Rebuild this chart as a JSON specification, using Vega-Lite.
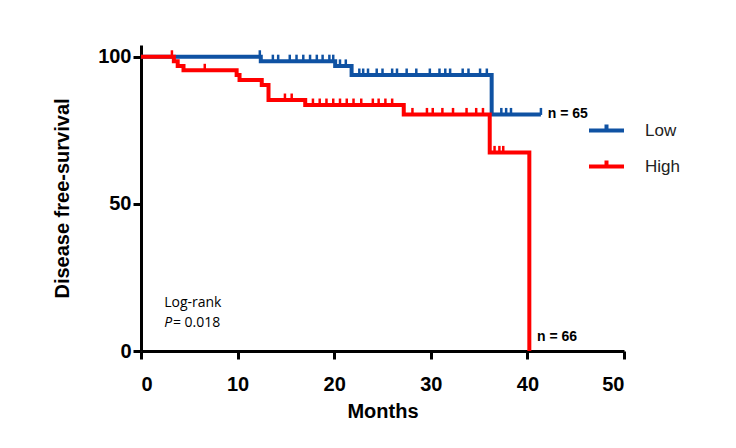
{
  "$schema": "https://vega.github.io/schema/vega-lite/v6.json",
  "width": 483,
  "height": 306,
  "autosize": {"type": "none"},
  "padding": {"left": 141, "top": 45, "right": 112, "bottom": 97},
  "background": "white",
  "config": {
    "view": {"stroke": null},
    "axis": {
      "grid": false,
      "domainColor": "black",
      "domainWidth": 3,
      "tickColor": "black",
      "tickWidth": 3,
      "tickSize": 8,
      "labelFont": "Liberation Sans",
      "labelFontWeight": "bold",
      "labelFontSize": 20,
      "labelColor": "black",
      "titleFont": "Liberation Sans",
      "titleFontWeight": "bold",
      "titleFontSize": 20,
      "titleColor": "black"
    }
  },
  "datasets": {
    "lines": [
      {"group": "Low", "month": 0, "surv": 100},
      {"group": "Low", "month": 12.4, "surv": 98.5},
      {"group": "Low", "month": 20.1, "surv": 96.9},
      {"group": "Low", "month": 21.8, "surv": 93.8},
      {"group": "Low", "month": 36.3, "surv": 80.4},
      {"group": "Low", "month": 41.4, "surv": 80.4},
      {"group": "High", "month": 0, "surv": 100},
      {"group": "High", "month": 3.4, "surv": 98.5},
      {"group": "High", "month": 3.8, "surv": 96.9},
      {"group": "High", "month": 4.4, "surv": 95.4},
      {"group": "High", "month": 9.9, "surv": 93.8},
      {"group": "High", "month": 10.2, "surv": 92.1},
      {"group": "High", "month": 12.5, "surv": 90.4},
      {"group": "High", "month": 13.2, "surv": 85.3},
      {"group": "High", "month": 17.0, "surv": 83.6},
      {"group": "High", "month": 27.2, "surv": 80.4},
      {"group": "High", "month": 36.1, "surv": 67.5},
      {"group": "High", "month": 40.2, "surv": 0}
    ],
    "censor": [
      {"group": "High", "month": 3.2, "surv": 100},
      {"group": "High", "month": 6.6, "surv": 95.4},
      {"group": "High", "month": 14.9, "surv": 85.3},
      {"group": "High", "month": 15.6, "surv": 85.3},
      {"group": "High", "month": 17.8, "surv": 83.6},
      {"group": "High", "month": 18.5, "surv": 83.6},
      {"group": "High", "month": 19.2, "surv": 83.6},
      {"group": "High", "month": 19.9, "surv": 83.6},
      {"group": "High", "month": 20.6, "surv": 83.6},
      {"group": "High", "month": 21.3, "surv": 83.6},
      {"group": "High", "month": 22.0, "surv": 83.6},
      {"group": "High", "month": 22.8, "surv": 83.6},
      {"group": "High", "month": 24.0, "surv": 83.6},
      {"group": "High", "month": 24.6, "surv": 83.6},
      {"group": "High", "month": 25.3, "surv": 83.6},
      {"group": "High", "month": 26.0, "surv": 83.6},
      {"group": "High", "month": 28.1, "surv": 80.4},
      {"group": "High", "month": 29.6, "surv": 80.4},
      {"group": "High", "month": 30.2, "surv": 80.4},
      {"group": "High", "month": 31.2, "surv": 80.4},
      {"group": "High", "month": 32.3, "surv": 80.4},
      {"group": "High", "month": 33.7, "surv": 80.4},
      {"group": "High", "month": 34.7, "surv": 80.4},
      {"group": "High", "month": 35.4, "surv": 80.4},
      {"group": "High", "month": 36.6, "surv": 67.5},
      {"group": "High", "month": 37.1, "surv": 67.5},
      {"group": "High", "month": 37.5, "surv": 67.5},
      {"group": "Low", "month": 12.3, "surv": 100},
      {"group": "Low", "month": 13.65, "surv": 98.5},
      {"group": "Low", "month": 14.2, "surv": 98.5},
      {"group": "Low", "month": 15.4, "surv": 98.5},
      {"group": "Low", "month": 16.1, "surv": 98.5},
      {"group": "Low", "month": 16.8, "surv": 98.5},
      {"group": "Low", "month": 17.5, "surv": 98.5},
      {"group": "Low", "month": 18.2, "surv": 98.5},
      {"group": "Low", "month": 18.8, "surv": 98.5},
      {"group": "Low", "month": 19.5, "surv": 98.5},
      {"group": "Low", "month": 19.9, "surv": 98.5},
      {"group": "Low", "month": 20.6, "surv": 96.9},
      {"group": "Low", "month": 21.2, "surv": 96.9},
      {"group": "Low", "month": 22.6, "surv": 93.8},
      {"group": "Low", "month": 23.0, "surv": 93.8},
      {"group": "Low", "month": 23.5, "surv": 93.8},
      {"group": "Low", "month": 24.4, "surv": 93.8},
      {"group": "Low", "month": 25.0, "surv": 93.8},
      {"group": "Low", "month": 26.0, "surv": 93.8},
      {"group": "Low", "month": 26.5, "surv": 93.8},
      {"group": "Low", "month": 27.5, "surv": 93.8},
      {"group": "Low", "month": 28.5, "surv": 93.8},
      {"group": "Low", "month": 29.9, "surv": 93.8},
      {"group": "Low", "month": 30.9, "surv": 93.8},
      {"group": "Low", "month": 31.5, "surv": 93.8},
      {"group": "Low", "month": 32.0, "surv": 93.8},
      {"group": "Low", "month": 33.3, "surv": 93.8},
      {"group": "Low", "month": 33.9, "surv": 93.8},
      {"group": "Low", "month": 35.1, "surv": 93.8},
      {"group": "Low", "month": 35.8, "surv": 93.8},
      {"group": "Low", "month": 37.3, "surv": 80.4},
      {"group": "Low", "month": 37.8, "surv": 80.4},
      {"group": "Low", "month": 38.3, "surv": 80.4},
      {"group": "Low", "month": 41.4, "surv": 80.4}
    ],
    "notes": [
      {"label": "Log-rank", "month": 2.4, "surv": 16.3},
      {"label": "= 0.018", "month": 3.3, "surv": 9.5}
    ],
    "italic": [
      {"label": "P", "month": 2.4, "surv": 9.5}
    ],
    "ns": [
      {"label": "n = 65", "month": 42.1, "surv": 80.4},
      {"label": "n = 66", "month": 41.0, "surv": 4.8}
    ]
  },
  "layer": [
    {
      "data": {"name": "lines"},
      "mark": {"type": "line", "interpolate": "step-after", "strokeWidth": 4, "strokeCap": "butt", "opacity": 1},
      "encoding": {
        "x": {"field": "month", "type": "quantitative", "scale": {"domain": [0, 50], "nice": false},
              "axis": {"values": [0, 10, 20, 30, 40, 50], "title": "Months", "labelPadding": 15, "titlePadding": 7}},
        "y": {"field": "surv", "type": "quantitative", "scale": {"domain": [0, 104], "nice": false},
              "axis": {"values": [0, 50, 100], "title": "Disease free-survival", "labelPadding": 2, "titlePadding": 25}},
        "color": {"field": "group", "type": "nominal",
                  "scale": {"domain": ["Low", "High"], "range": ["#0f52a3", "#ff0000"]},
                  "legend": {
                    "title": null,
                    "orient": "none",
                    "legendX": 446,
                    "legendY": 66,
                    "symbolType": "M-1,0L1,0M0,0L0,-0.35",
                    "symbolSize": 1225,
                    "symbolStrokeWidth": 4,
                    "symbolOpacity": 1,
                    "labelFont": "Liberation Sans",
                    "labelFontSize": 17,
                    "labelColor": "#222222",
                    "labelOffset": 19,
                    "rowPadding": 8
                  }},
        "order": {"field": "month", "type": "quantitative"},
        "detail": {"field": "group"}
      }
    },
    {
      "data": {"name": "censor"},
      "mark": {"type": "tick", "orient": "vertical", "size": 7, "thickness": 2.5, "yOffset": -3, "opacity": 1},
      "encoding": {
        "x": {"field": "month", "type": "quantitative"},
        "y": {"field": "surv", "type": "quantitative"},
        "color": {"field": "group", "type": "nominal"}
      }
    },
    {
      "data": {"name": "notes"},
      "mark": {"type": "text", "align": "left", "baseline": "middle", "font": "Open Sans", "fontSize": 14, "color": "black"},
      "encoding": {
        "x": {"field": "month", "type": "quantitative"},
        "y": {"field": "surv", "type": "quantitative"},
        "text": {"field": "label"}
      }
    },
    {
      "data": {"name": "italic"},
      "mark": {"type": "text", "align": "left", "baseline": "middle", "font": "Open Sans", "fontStyle": "italic", "fontSize": 14, "color": "black"},
      "encoding": {
        "x": {"field": "month", "type": "quantitative"},
        "y": {"field": "surv", "type": "quantitative"},
        "text": {"field": "label"}
      }
    },
    {
      "data": {"name": "ns"},
      "mark": {"type": "text", "align": "left", "baseline": "middle", "font": "Liberation Sans", "fontWeight": "bold", "fontSize": 14, "color": "black"},
      "encoding": {
        "x": {"field": "month", "type": "quantitative"},
        "y": {"field": "surv", "type": "quantitative"},
        "text": {"field": "label"}
      }
    }
  ]
}
